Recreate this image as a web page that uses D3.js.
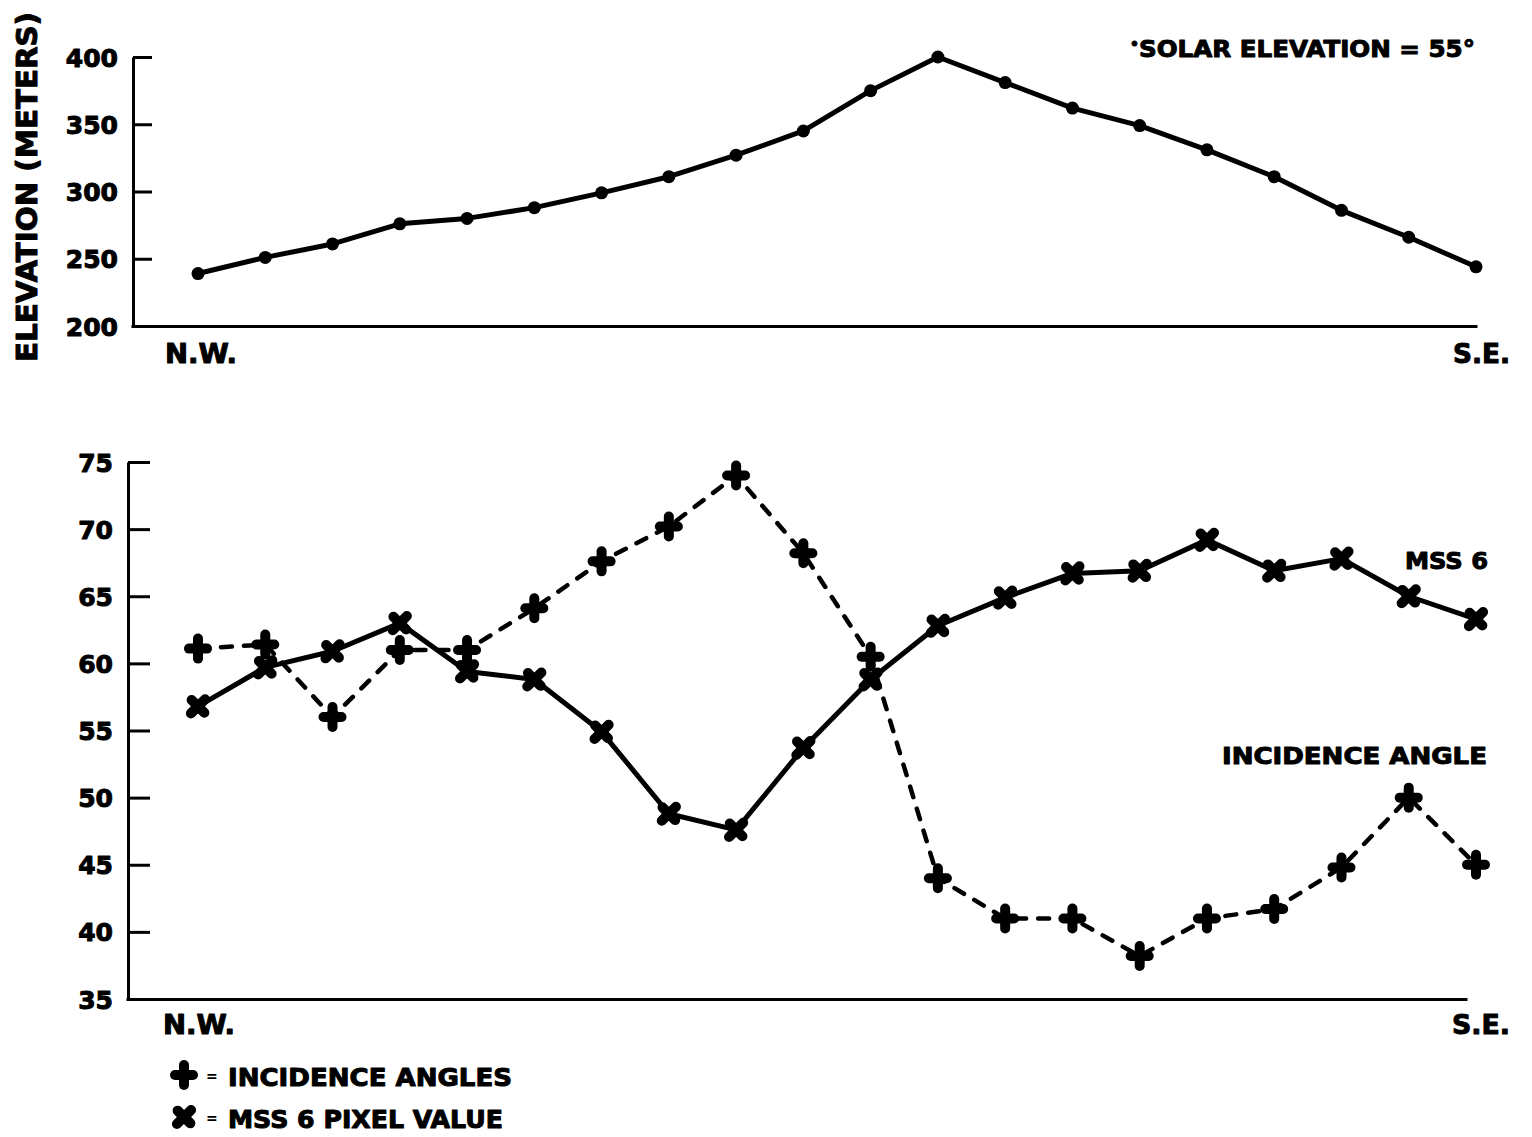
<!DOCTYPE html>
<html>
<head>
<meta charset="utf-8">
<script src="https://cdn.jsdelivr.net/npm/d3@7/dist/d3.min.js"></script>
<style>
  html, body { margin: 0; padding: 0; background: #fff; }
  svg { display: block; }
  text { font-family: "DejaVu Sans", "Liberation Sans", sans-serif; font-weight: bold; fill: #000; stroke: #000; stroke-width: 1px; stroke-linejoin: round; }
</style>
</head>
<body>
<svg id="chart" width="1532" height="1137"></svg>
<script>
// Stations along the N.W. → S.E. profile
const stations = [1, 2, 3, 4, 5, 6, 7, 8, 9, 10, 11, 12, 13, 14, 15, 16, 17, 18, 19, 20];

// Terrain elevation (meters) at each station
const elevation = [239, 251, 261, 276, 280, 288, 299, 311, 327, 345, 375, 400, 381, 362, 349, 331, 311, 286, 266, 244];

// Incidence angle (degrees) and MSS 6 pixel value at each station
const incidence = [61.1, 61.4, 56.0, 61.0, 61.0, 64.1, 67.6, 70.2, 74.0, 68.2, 60.5, 44.0, 41.0, 41.0, 38.2, 41.0, 41.7, 44.8, 50.0, 45.0];
const mss6 = [56.8, 59.7, 60.9, 63.0, 59.4, 58.8, 54.9, 48.8, 47.6, 53.7, 58.8, 62.8, 64.9, 66.7, 66.9, 69.2, 66.9, 67.8, 65.0, 63.3];

// Tick values
const elevTicks = [200, 250, 300, 350, 400];
const lowerTicks = [35, 40, 45, 50, 55, 60, 65, 70, 75];

const svg = d3.select("#chart");

const x = d3.scaleLinear().domain([1, 20]).range([198, 1476]);

// Fixed-width bold label helper
function label(g, px, py, str, size, width, anchor) {
  const t = g.append("text").attr("x", px).attr("y", py)
    .attr("text-anchor", anchor || "start").style("font-size", size + "px").text(str);
  if (width) t.attr("textLength", width).attr("lengthAdjust", "spacingAndGlyphs");
  return t;
}

// ---------- Upper panel: elevation profile ----------
const yTop = d3.scaleLinear().domain([200, 400]).range([326, 57]);
const upper = svg.append("g");

const upperY = upper.append("g")
  .attr("transform", "translate(133,0)")
  .call(d3.axisLeft(yTop).tickValues(elevTicks).tickSizeInner(-19).tickSizeOuter(0).tickPadding(15));
upperY.select(".domain").attr("stroke", "#000").attr("stroke-width", 3);
upperY.selectAll(".tick line").attr("stroke", "#000").attr("stroke-width", 3);
upperY.selectAll(".tick text").style("font-size", "25px").attr("dy", "0.36em");

const upperX = upper.append("g")
  .attr("transform", "translate(0,326)")
  .call(d3.axisBottom(d3.scaleLinear().domain([0, 1]).range([131, 1477])).tickValues([]).tickSizeOuter(0));
upperX.select(".domain").attr("stroke", "#000").attr("stroke-width", 3);

upper.append("path")
  .datum(elevation)
  .attr("fill", "none")
  .attr("stroke", "#000")
  .attr("stroke-width", 5)
  .attr("stroke-linejoin", "round")
  .attr("d", d3.line().x((d, i) => x(stations[i])).y(d => yTop(d)));

upper.selectAll("circle.pt")
  .data(elevation)
  .join("circle")
  .attr("class", "pt")
  .attr("cx", (d, i) => x(stations[i]))
  .attr("cy", d => yTop(d))
  .attr("r", 6.5);

upper.append("text")
  .attr("transform", "translate(37,187) rotate(-90)")
  .attr("text-anchor", "middle")
  .style("font-size", "28px")
  .attr("textLength", 350).attr("lengthAdjust", "spacingAndGlyphs")
  .text("ELEVATION (METERS)");

label(upper, 165, 363, "N.W.", 26, 72);
label(upper, 1510, 363, "S.E.", 26, 57, "end");

const solar = upper.append("text").attr("x", 1130).attr("y", 57).style("font-size", "23px");
solar.append("tspan").attr("dy", "-8").style("font-size", "14px").text("•");
solar.append("tspan").attr("dy", "8").attr("textLength", 336).attr("lengthAdjust", "spacingAndGlyphs").text("SOLAR ELEVATION = 55°");

// ---------- Lower panel: incidence angle vs. MSS 6 ----------
const yBot = d3.scaleLinear().domain([35, 75]).range([999, 462]);
const lower = svg.append("g");

const lowerY = lower.append("g")
  .attr("transform", "translate(128,0)")
  .call(d3.axisLeft(yBot).tickValues(lowerTicks).tickSizeInner(-22).tickSizeOuter(0).tickPadding(15));
lowerY.select(".domain").attr("stroke", "#000").attr("stroke-width", 3);
lowerY.selectAll(".tick line").attr("stroke", "#000").attr("stroke-width", 3);
lowerY.selectAll(".tick text").style("font-size", "25px").attr("dy", "0.36em");

const lowerX = lower.append("g")
  .attr("transform", "translate(0,999)")
  .call(d3.axisBottom(d3.scaleLinear().domain([0, 1]).range([126, 1467])).tickValues([]).tickSizeOuter(0));
lowerX.select(".domain").attr("stroke", "#000").attr("stroke-width", 3);

// Incidence angle: dashed line with "+" markers
lower.append("path")
  .datum(incidence)
  .attr("fill", "none")
  .attr("stroke", "#000")
  .attr("stroke-width", 4.5)
  .attr("stroke-linecap", "round")
  .attr("stroke-dasharray", "11 12")
  .attr("d", d3.line().x((d, i) => x(stations[i])).y(d => yBot(d)));

// MSS 6: solid line with "x" markers
lower.append("path")
  .datum(mss6)
  .attr("fill", "none")
  .attr("stroke", "#000")
  .attr("stroke-width", 5)
  .attr("stroke-linejoin", "round")
  .attr("d", d3.line().x((d, i) => x(stations[i])).y(d => yBot(d)));

function drawCross(g, cx, cy, angle) {
  g.attr("transform", `translate(${cx},${cy}) rotate(${angle})`);
  g.append("rect").attr("x", -14).attr("y", -5).attr("width", 28).attr("height", 10).attr("rx", 5);
  g.append("rect").attr("x", -5).attr("y", -15).attr("width", 10).attr("height", 30).attr("rx", 5);
}

lower.selectAll("g.plus")
  .data(incidence)
  .join("g")
  .attr("class", "plus")
  .each(function(d, i) { drawCross(d3.select(this), x(stations[i]), yBot(d), 0); });

lower.selectAll("g.cross")
  .data(mss6)
  .join("g")
  .attr("class", "cross")
  .each(function(d, i) { drawCross(d3.select(this), x(stations[i]), yBot(d), 45); });

label(lower, 163, 1034, "N.W.", 26, 72);
label(lower, 1510, 1034, "S.E.", 26, 58, "end");

label(lower, 1488, 569, "MSS 6", 23, 83, "end");
label(lower, 1487, 764, "INCIDENCE ANGLE", 23, 265, "end");

// ---------- Legend ----------
const legend = lower.append("g");
const legendItems = [
  { label: "INCIDENCE ANGLES", angle: 0, y: 1075, width: 284 },
  { label: "MSS 6 PIXEL VALUE", angle: 45, y: 1117, width: 275 }
];
legendItems.forEach(item => {
  drawCross(legend.append("g"), 184, item.y, item.angle);
  legend.append("text").attr("x", 206).attr("y", item.y + 6).style("font-size", "14px").style("stroke-width", 0).text("=");
  label(legend, 228, item.y + 11, item.label, 24, item.width);
});
</script>
</body>
</html>
